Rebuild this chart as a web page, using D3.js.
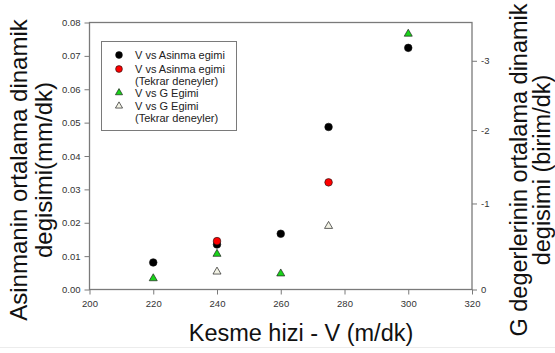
<!DOCTYPE html>
<html>
<head>
<meta charset="utf-8">
<script src="https://cdn.jsdelivr.net/npm/d3@7"></script>
<style>
  html, body { margin: 0; padding: 0; background: #fff; }
  svg { display: block; font-family: "Liberation Sans", Arial, sans-serif; }
</style>
</head>
<body>
<svg id="chart" width="555" height="353"></svg>
<script>
// ---- data ----
const asinmaV = [220, 240, 260, 275, 300];
const asinmaVals = [0.0081, 0.0135, 0.0167, 0.0487, 0.0724];
const asinmaTekrarV = [240, 275];
const asinmaTekrarVals = [0.0145, 0.0321];
const gV = [220, 240, 260, 300];
const gVals = [-0.10, -0.37, -0.15, -3.4];
const gTekrarV = [240, 275];
const gTekrarVals = [-0.17, -0.71];

const xTicks = [200, 220, 240, 260, 280, 300, 320];
const yLeftTicks = [0, 0.01, 0.02, 0.03, 0.04, 0.05, 0.06, 0.07, 0.08];
const yRightTicks = [0, -1, -2, -3];

const legendLabels = [
  ["V vs Asinma egimi"],
  ["V vs Asinma egimi", "(Tekrar deneyler)"],
  ["V vs G Egimi"],
  ["V vs G Egimi", "(Tekrar deneyler)"]
];
const xTitle = "Kesme hizi - V (m/dk)";
const yLeftTitle = ["Asinmanin ortalama dinamik", "degisimi(mm/dk)"];
const yRightTitle = ["G degerlerinin ortalama dinamik", "degisimi (birim/dk)"];

// ---- layout ----
const svg = d3.select("#chart");
const L = 89.5, R = 472, T = 22.5, B = 289.5;
const frameColor = "#7a7a7a";
const textColor = "#333";

const x = d3.scaleLinear().domain([200, 320]).range([L, R]);
const yL = d3.scaleLinear().domain([0, 0.08]).range([B, T]);
const yR = d3.scalePow().exponent(0.89).domain([0, -3.57]).range([B, T]);

// faint bottom line (image border)
svg.append("line").attr("x1", 0).attr("x2", 555).attr("y1", 347.5).attr("y2", 347.5)
  .attr("stroke", "#ececec").attr("stroke-width", 1);

// frame
svg.append("rect").attr("x", L).attr("y", T).attr("width", R - L).attr("height", B - T)
  .attr("fill", "none").attr("stroke", frameColor).attr("stroke-width", 1.3);

function styleAxis(g) {
  g.select(".domain").remove();
  g.selectAll(".tick line").attr("stroke", frameColor).attr("stroke-width", 1);
  g.selectAll(".tick text").attr("fill", textColor).attr("font-size", "9.5px")
    .attr("font-family", "Liberation Sans, Arial, sans-serif");
}

svg.append("g").attr("transform", `translate(0,${B})`)
  .call(d3.axisBottom(x).tickValues(xTicks).tickSize(5).tickPadding(6).tickFormat(d3.format("d")))
  .call(styleAxis);

svg.append("g").attr("transform", `translate(${L},0)`)
  .call(d3.axisLeft(yL).tickValues(yLeftTicks).tickSize(5).tickPadding(4).tickFormat(d3.format(".2f")))
  .call(styleAxis);

svg.append("g").attr("transform", `translate(${R},0)`)
  .call(d3.axisRight(yR).tickValues(yRightTicks).tickSize(5).tickPadding(4).tickFormat(d => String(d)))
  .call(styleAxis);

// ---- marks ----
const tri = d3.symbol().type(d3.symbolTriangle).size(28);

function circles(vs, vals, fill) {
  svg.append("g").selectAll("circle").data(vs.map((v, i) => [v, vals[i]])).join("circle")
    .attr("cx", d => x(d[0])).attr("cy", d => yL(d[1])).attr("r", 3.8)
    .attr("fill", fill).attr("stroke", "#111").attr("stroke-width", 0.6);
}
function triangles(vs, vals, fill) {
  svg.append("g").selectAll("path").data(vs.map((v, i) => [v, vals[i]])).join("path")
    .attr("d", tri)
    .attr("transform", d => `translate(${x(d[0])},${yR(d[1])})`)
    .attr("fill", fill).attr("stroke", "#222").attr("stroke-width", 0.7);
}

triangles(gV, gVals, "#19d419");
triangles(gTekrarV, gTekrarVals, "#f2f2e4");
circles(asinmaV, asinmaVals, "#000");
circles(asinmaTekrarV, asinmaTekrarVals, "#ff0000");

// ---- legend ----
const lg = svg.append("g");
lg.append("rect").attr("x", 101.5).attr("y", 41.5).attr("width", 135).attr("height", 89)
  .attr("fill", "#fff").attr("stroke", frameColor).attr("stroke-width", 1);
const rowY = [55, 69, 92.7, 106];
const symX = 119;
legendLabels.forEach((lines, i) => {
  const cy = rowY[i];
  if (i === 0 || i === 1) {
    lg.append("circle").attr("cx", symX).attr("cy", cy).attr("r", 3.4)
      .attr("fill", i === 0 ? "#000" : "#ff0000").attr("stroke", "#111").attr("stroke-width", 0.6);
  } else {
    lg.append("path").attr("d", d3.symbol().type(d3.symbolTriangle).size(22))
      .attr("transform", `translate(${symX},${cy})`)
      .attr("fill", i === 2 ? "#19d419" : "#f2f2e4").attr("stroke", "#222").attr("stroke-width", 0.7);
  }
  lines.forEach((t, j) => {
    lg.append("text").attr("x", 135).attr("y", cy + j * 12)
      .attr("dominant-baseline", "central")
      .attr("font-size", "11px").attr("fill", "#222").text(t);
  });
});

// ---- titles ----
svg.append("text").attr("x", 301).attr("y", 341).attr("text-anchor", "middle")
  .attr("font-size", "23.5px").attr("fill", "#111").text(xTitle);

const lt = svg.append("g").attr("transform", "translate(27,170) rotate(-90)");
yLeftTitle.forEach((t, i) => {
  lt.append("text").attr("x", 0).attr("y", i * 24.5).attr("text-anchor", "middle")
    .attr("font-size", "24px").attr("fill", "#111").text(t);
});

const rt = svg.append("g").attr("transform", "translate(527,170) rotate(-90)");
yRightTitle.forEach((t, i) => {
  rt.append("text").attr("x", 0).attr("y", i * 23).attr("text-anchor", "middle")
    .attr("font-size", "23.5px").attr("fill", "#111").text(t);
});
</script>
</body>
</html>
